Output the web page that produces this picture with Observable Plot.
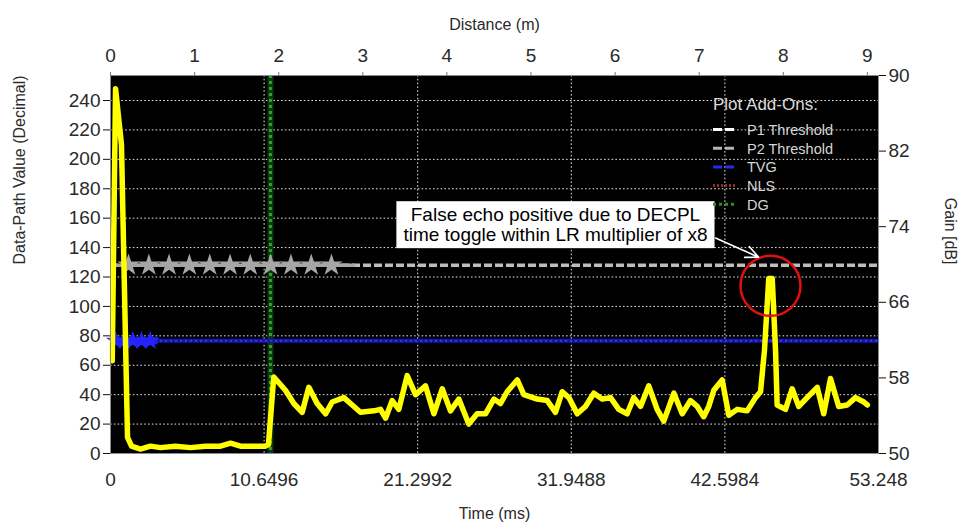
<!DOCTYPE html>
<html>
<head>
<meta charset="utf-8">
<script src="https://cdn.jsdelivr.net/npm/d3@7"></script>
<script src="https://cdn.jsdelivr.net/npm/@observablehq/plot@0.6"></script>
<style>
  html, body { margin: 0; padding: 0; background: #fff; }
</style>
</head>
<body>
<div id="chart"></div>
<script>
(function () {
// ---------- data ----------
const timeMax = 53.248;          // ms, right edge of the plot
const valueMax = 257;            // Data-Path Value at top edge
const gainMin = 50, gainMax = 90;

const timeTicks = [0, 10.6496, 21.2992, 31.9488, 42.5984, 53.248];
const timeTickLabels = ["0", "10.6496", "21.2992", "31.9488", "42.5984", "53.248"];
const distanceTicks = [0, 1, 2, 3, 4, 5, 6, 7, 8, 9];
const valueTicks = [0, 20, 40, 60, 80, 100, 120, 140, 160, 180, 200, 220, 240];
const gainTicks = [50, 58, 66, 74, 82, 90];

// Yellow echo trace (time in ms, data-path value)
const echoTime = [
  0.12, 0.35, 0.76, 1.18, 1.46, 2.08, 2.77, 3.47, 4.50, 5.55, 6.59, 7.63, 8.32, 9.01, 10.05, 10.75,
  10.95, 11.32, 12.13, 12.71, 13.29, 13.75, 14.33, 14.91, 15.37, 16.18, 16.64, 17.33, 18.26, 18.72,
  19.07, 19.53, 19.99, 20.57, 21.15, 21.84, 22.42, 23.00, 23.57, 24.15, 24.84, 25.42, 26.00, 26.58,
  27.04, 27.50, 28.20, 28.66, 29.58, 30.28, 30.85, 31.32, 31.78, 32.36, 32.93, 33.51, 34.09, 34.67,
  35.24, 35.82, 36.28, 36.75, 37.32, 37.90, 38.36, 39.06, 39.64, 40.21, 40.68, 41.13, 41.48, 41.83,
  42.41, 42.87, 43.45, 44.14, 44.72, 45.07, 45.34, 45.64, 45.88, 46.11, 46.22, 46.80, 47.26, 47.72,
  48.30, 49.00, 49.45, 49.92, 50.49, 51.08, 51.65, 52.23, 52.47
];
const echoValue = [
  63, 248, 210, 11, 5, 3, 5, 4, 5, 4, 5, 5, 7, 5, 5, 5,
  6, 52, 43, 34, 28, 45, 34, 27, 35, 38, 34, 28, 29, 30,
  24, 36, 30, 53, 40, 46, 27, 44, 29, 37, 20, 27, 27, 37,
  34, 42, 50, 40, 37, 36, 28, 42, 38, 27, 32, 41, 37, 38,
  30, 27, 38, 32, 46, 30, 22, 41, 27, 36, 32, 25, 32, 43,
  50, 26, 30, 29, 38, 42, 70, 119, 119, 70, 33, 30, 44, 32,
  38, 45, 27, 51, 32, 33, 38, 35, 33
];

// Thresholds / add-ons
const p2Threshold = 128;                 // dashed grey line across the plot
const p1SegmentEnd = 17.0;               // solid grey segment with star markers
const p1StarTimes = [1.25, 2.66, 4.06, 5.47, 6.88, 8.29, 9.69, 11.10, 12.51, 13.92, 15.32];
const tvgValue = 76.6;
const tvgMarkerTimes = [0.35, 0.95, 1.55, 2.15, 2.75];
const tvgThickEnd = 3.3;
const dgTime = 11.09;

// Annotation
const noteLines = ["False echo positive due to DECPL", "time toggle within LR multiplier of x8"];
const noteAt = {t: 30.85, v: 155.5};
const circleAt = {t: 45.76, v: 114};
const arrowFrom = {t: 41.95, v: 146.5};
const arrowTo = {t: 44.93, v: 133.5};

// Legend
const legendTitle = "Plot Add-Ons:";
const legendLabels = ["P1 Threshold", "P2 Threshold", "TVG", "NLS", "DG"];
const legendColors = ["#ffffff", "#b4b4b4", "#2a2ae6", "#9a2a2a", "#2f8f2f"];
const legendDash = ["9,3", "9,3", "9,3", "2,2", "3,3"];

// ---------- helpers ----------
const echo = echoTime.map((t, i) => ({t, v: echoValue[i]}));
const gainToValue = g => (g - gainMin) / (gainMax - gainMin) * valueMax;
const valueToGain = v => Math.round(gainMin + v / valueMax * (gainMax - gainMin));
const distToTime = d => d * 2000 / 343;
const timeToDist = t => Math.round(t * 343 / 2000);

const font = "'Liberation Sans', Arial, sans-serif";
const gridStyle = {stroke: "#e6e6e6", strokeOpacity: 1, strokeWidth: 1, strokeDasharray: "1.6,2.2"};

const plot = Plot.plot({
  width: 963,
  height: 527,
  marginLeft: 110,
  marginRight: 85,
  marginTop: 75,
  marginBottom: 74,
  x: {domain: [0, timeMax]},
  y: {domain: [0, valueMax]},
  style: {background: "white", fontFamily: font, color: "#2a2a2a"},
  marks: [
    Plot.frame({fill: "black", stroke: "none"}),
    Plot.gridY(valueTicks.slice(1), gridStyle),
    Plot.gridX(timeTicks.slice(1, -1), gridStyle),

    // DG vertical
    Plot.ruleX([dgTime], {stroke: "#0b3a0b", strokeWidth: 6}),
    Plot.ruleX([dgTime], {stroke: "#33a033", strokeWidth: 3, strokeDasharray: "3,3"}),

    // P2 threshold (dashed grey)
    Plot.ruleY([p2Threshold], {stroke: "#bdbdbd", strokeWidth: 3.5, strokeDasharray: "8,3"}),
    // P1 solid segment with stars
    Plot.ruleY([p2Threshold], {x1: 0, x2: p1SegmentEnd, stroke: "#a6a6a6", strokeWidth: 3.5}),
    Plot.dot(p1StarTimes, {x: d => d, y: () => p2Threshold, symbol: "star", r: 7, fill: "#a6a6a6", stroke: "none"}),

    // TVG
    Plot.ruleY([tvgValue], {stroke: "#1414b4", strokeWidth: 4}),
    Plot.ruleY([tvgValue], {stroke: "#4a4aff", strokeWidth: 1.2, strokeDasharray: "2,3"}),
    Plot.ruleY([tvgValue], {x1: 0, x2: tvgThickEnd, stroke: "#1e1ef0", strokeWidth: 7}),
    Plot.dot(tvgMarkerTimes, {x: d => d, y: () => tvgValue, symbol: "star", r: 6, fill: "#2424ff", stroke: "none"}),

    // Echo trace
    Plot.line(echo, {x: "t", y: "v", stroke: "#ffff00", strokeWidth: 5.5, strokeLinejoin: "round", strokeLinecap: "round"}),

    // Annotation
    Plot.dot([circleAt], {x: "t", y: "v", r: 30, stroke: "#e01010", strokeWidth: 2.5, fill: "none"}),
    Plot.arrow([{from: arrowFrom, to: arrowTo}], {
      x1: d => d.from.t, y1: d => d.from.v, x2: d => d.to.t, y2: d => d.to.v,
      stroke: "white", strokeWidth: 1.6, headLength: 13, headAngle: 50
    }),
    Plot.text([noteAt], {x: "t", y: "v", text: () => noteLines.join("\n"), fill: "black", fontSize: 19, lineHeight: 1.05}),

    Plot.frame({stroke: "#8a8a8a", strokeWidth: 1}),

    // Axes
    Plot.axisY(valueTicks, {anchor: "left", tickSize: 7, tickPadding: 3, fontSize: 19, label: null, stroke: "#111"}),
    Plot.axisY(gainTicks.map(gainToValue), {anchor: "right", tickSize: 7, tickPadding: 3, fontSize: 19, label: null, tickFormat: valueToGain, stroke: "#111"}),
    Plot.axisX(timeTicks, {anchor: "bottom", tickSize: 0, tickPadding: 19, fontSize: 19, label: null, tickFormat: t => timeTickLabels[timeTicks.indexOf(t)]}),
    Plot.axisX(distanceTicks.map(distToTime), {anchor: "top", tickSize: 4, tickPadding: 10, fontSize: 19, label: null, tickFormat: timeToDist, stroke: "#777"}),

    // Axis titles
    Plot.text(["Time (ms)"], {frameAnchor: "bottom", dy: 65, fontSize: 16, text: d => d}),
    Plot.text(["Distance (m)"], {frameAnchor: "top", dy: -57, fontSize: 16, text: d => d}),
    Plot.text(["Data-Path Value (Decimal)"], {frameAnchor: "left", dx: -91, rotate: -90, fontSize: 16, text: d => d}),
    Plot.text(["Gain [dB]"], {frameAnchor: "right", dx: 72, rotate: 90, fontSize: 16, text: d => d})
  ]
});

document.getElementById("chart").appendChild(plot);

const svg = d3.select(plot);

// ---------- annotation box (sized from the text) ----------
const noteText = svg.selectAll("text").filter(function () {
  return (this.textContent || "").indexOf(noteLines[0]) >= 0;
});
if (!noteText.empty()) {
  const node = noteText.node();
  const bb = node.getBBox();
  const padX = 7, padY = 3;
  const tr = node.getAttribute("transform");
  d3.select(node.parentNode).insert("rect", () => node)
    .attr("transform", tr)
    .attr("x", bb.x - padX).attr("y", bb.y - padY)
    .attr("width", bb.width + 2 * padX).attr("height", bb.height + 2 * padY)
    .attr("fill", "white");
}

// ---------- legend inside the plot (positioned from the frame) ----------
const xr = plot.scale("x").range;   // [left, right]
const yr = plot.scale("y").range;   // [bottom, top]
const frameRight = Math.max(...xr), frameTop = Math.min(...yr);
const lx = frameRight - 165;
const lg = svg.append("g").attr("font-family", font).attr("text-anchor", "start");
lg.append("text").attr("x", lx).attr("y", frameTop + 35)
  .attr("fill", "#dadada").attr("font-size", 17).text(legendTitle);
legendLabels.forEach((lab, i) => {
  const by = frameTop + 60 + i * 18.7;
  lg.append("line").attr("x1", lx).attr("x2", lx + 24)
    .attr("y1", by - 5.5).attr("y2", by - 5.5)
    .attr("stroke", legendColors[i]).attr("stroke-width", 3)
    .attr("stroke-dasharray", legendDash[i]);
  lg.append("text").attr("x", lx + 34).attr("y", by)
    .attr("fill", "#d6d6d6").attr("font-size", 14.5).text(lab);
});
})();
</script>
</body>
</html>
